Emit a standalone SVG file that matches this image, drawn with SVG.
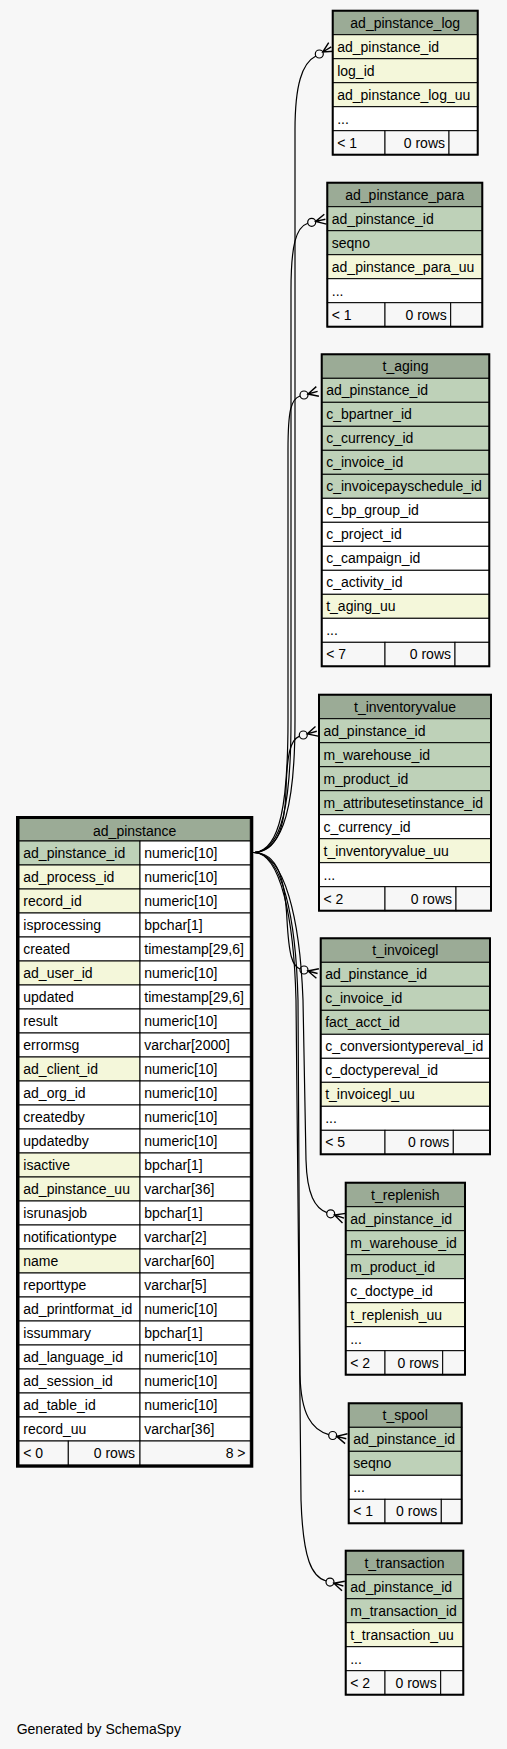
<svg xmlns="http://www.w3.org/2000/svg" width="507" height="1749" viewBox="0 0 507 1749">
<style>
text{font-family:"Liberation Sans",Arial,Helvetica,sans-serif;font-size:14px;fill:#000}
.c{text-anchor:middle}
.r{text-anchor:end}
.h{fill:#9bab96;stroke:#000;stroke-width:1}
.pk{fill:#bed1b8;stroke:#000;stroke-width:1}
.ix{fill:#f4f7da;stroke:#000;stroke-width:1}
.w{fill:#ffffff;stroke:#000;stroke-width:1}
.ft{fill:#f7f7f7;stroke:#000;stroke-width:1}
.ob{fill:none;stroke:#000;stroke-width:2}
.tb{fill:none;stroke:#000;stroke-width:3}
.e{fill:none;stroke:#000;stroke-width:1.2}
.od{fill:none;stroke:#000;stroke-width:1.2}
.cr{fill:none;stroke:#000;stroke-width:1.4}
</style>
<rect x="0" y="0" width="507" height="1749" fill="#f7f7f7"/>

<g id="connectors">
<path class="e" d="M253.3,852.5 C285,852 295,800 295,720 L295,130 C295,85 302,63 315.9,56"/>
<circle class="od" cx="319.3" cy="54" r="4"/>
<path class="cr" d="M333.9,51.2 L322.7,52 L328.7,42.6 M322.7,52 L331.3,46.9"/>

<path class="e" d="M253.3,852.5 C283,852 291,800 291,720 L291,290 C291,245 296,227 307.8,223.2"/>
<circle class="od" cx="311.7" cy="222.3" r="4"/>
<path class="cr" d="M326.5,224.1 L315.6,221.4 L324.3,214.3 M315.6,221.4 L325.4,219.2"/>

<path class="e" d="M253.3,852.5 C281,852 288,800 288,720 L288,450 C288,410 291,399 300.1,396"/>
<circle class="od" cx="304" cy="395" r="4"/>
<path class="cr" d="M318.9,396.2 L307.9,394 L316.3,386.6 M307.9,394 L317.6,391.4"/>

<path class="e" d="M253.3,852.5 C278,852 285,825 286,790 C287,755 290,740 299.5,736.1"/>
<circle class="od" cx="303.3" cy="735" r="4"/>
<path class="cr" d="M318.1,736.1 L307.2,733.9 L315.5,726.5 M307.2,733.9 L316.8,731.3"/>

<path class="e" d="M253.3,852.5 C278,852 285,880 287,920 C289,955 292,966 300.1,969"/>
<circle class="od" cx="304" cy="970" r="4"/>
<path class="cr" d="M316.4,978.3 L307.9,971 L318.9,968.7 M307.9,971 L317.6,973.5"/>

<path class="e" d="M253.3,852.5 C285,852 300,920 303,1000 L306,1160 C307,1195 315,1208 326.9,1212.6"/>
<circle class="od" cx="330.7" cy="1213.8" r="4"/>
<path class="cr" d="M342.5,1222.9 L334.5,1215 L345.6,1213.4 M334.5,1215 L344,1218.1"/>

<path class="e" d="M253.3,852.5 C283,852 296,920 298,1000 L300,1375 C301,1415 312,1430 328.8,1434.6"/>
<circle class="od" cx="332.7" cy="1435.5" r="4"/>
<path class="cr" d="M345.1,1443.6 L336.6,1436.4 L347.5,1433.8 M336.6,1436.4 L346.3,1438.7"/>

<path class="e" d="M253.3,852.5 C281,852 294,920 296,1000 L301,1500 C303,1560 312,1577 326.2,1581"/>
<circle class="od" cx="330" cy="1582.1" r="4"/>
<path class="cr" d="M342,1590.8 L333.8,1583.2 L344.8,1581.2 M333.8,1583.2 L343.4,1586"/>
</g>

<g id="ad_pinstance_log">
<rect class="h" x="332.7" y="10.7" width="145" height="24"/>
<rect class="ix" x="332.7" y="34.7" width="145" height="24"/>
<rect class="ix" x="332.7" y="58.7" width="145" height="24"/>
<rect class="ix" x="332.7" y="82.7" width="145" height="24"/>
<rect class="w" x="332.7" y="106.7" width="145" height="24"/>
<rect class="ft" x="332.7" y="130.7" width="52.3" height="24"/>
<rect class="ft" x="385" y="130.7" width="64" height="24"/>
<rect class="ft" x="449" y="130.7" width="28.7" height="24"/>
<rect class="ob" x="332.7" y="10.7" width="145" height="144"/>
<text class="c" x="405.2" y="27.7">ad_pinstance_log</text>
<text x="337.2" y="51.7">ad_pinstance_id</text>
<text x="337.2" y="75.7">log_id</text>
<text x="337.2" y="99.7">ad_pinstance_log_uu</text>
<text x="337.2" y="123.7">...</text>
<text x="337.2" y="147.7">&lt; 1</text>
<text class="r" x="445" y="147.7">0 rows</text>
</g>

<g id="ad_pinstance_para">
<rect class="h" x="327.3" y="182.7" width="155" height="24"/>
<rect class="pk" x="327.3" y="206.7" width="155" height="24"/>
<rect class="pk" x="327.3" y="230.7" width="155" height="24"/>
<rect class="ix" x="327.3" y="254.7" width="155" height="24"/>
<rect class="w" x="327.3" y="278.7" width="155" height="24"/>
<rect class="ft" x="327.3" y="302.7" width="57.7" height="24"/>
<rect class="ft" x="385" y="302.7" width="65.7" height="24"/>
<rect class="ft" x="450.7" y="302.7" width="31.6" height="24"/>
<rect class="ob" x="327.3" y="182.7" width="155" height="144"/>
<text class="c" x="404.8" y="199.7">ad_pinstance_para</text>
<text x="331.8" y="223.7">ad_pinstance_id</text>
<text x="331.8" y="247.7">seqno</text>
<text x="331.8" y="271.7">ad_pinstance_para_uu</text>
<text x="331.8" y="295.7">...</text>
<text x="331.8" y="319.7">&lt; 1</text>
<text class="r" x="446.7" y="319.7">0 rows</text>
</g>

<g id="t_aging">
<rect class="h" x="321.7" y="354.3" width="167.6" height="24"/>
<rect class="pk" x="321.7" y="378.3" width="167.6" height="24"/>
<rect class="pk" x="321.7" y="402.3" width="167.6" height="24"/>
<rect class="pk" x="321.7" y="426.3" width="167.6" height="24"/>
<rect class="pk" x="321.7" y="450.3" width="167.6" height="24"/>
<rect class="pk" x="321.7" y="474.3" width="167.6" height="24"/>
<rect class="w" x="321.7" y="498.3" width="167.6" height="24"/>
<rect class="w" x="321.7" y="522.3" width="167.6" height="24"/>
<rect class="w" x="321.7" y="546.3" width="167.6" height="24"/>
<rect class="w" x="321.7" y="570.3" width="167.6" height="24"/>
<rect class="ix" x="321.7" y="594.3" width="167.6" height="24"/>
<rect class="w" x="321.7" y="618.3" width="167.6" height="24"/>
<rect class="ft" x="321.7" y="642.3" width="63.3" height="24"/>
<rect class="ft" x="385" y="642.3" width="70" height="24"/>
<rect class="ft" x="455" y="642.3" width="34.3" height="24"/>
<rect class="ob" x="321.7" y="354.3" width="167.6" height="312"/>
<text class="c" x="405.5" y="371.3">t_aging</text>
<text x="326.2" y="395.3">ad_pinstance_id</text>
<text x="326.2" y="419.3">c_bpartner_id</text>
<text x="326.2" y="443.3">c_currency_id</text>
<text x="326.2" y="467.3">c_invoice_id</text>
<text x="326.2" y="491.3">c_invoicepayschedule_id</text>
<text x="326.2" y="515.3">c_bp_group_id</text>
<text x="326.2" y="539.3">c_project_id</text>
<text x="326.2" y="563.3">c_campaign_id</text>
<text x="326.2" y="587.3">c_activity_id</text>
<text x="326.2" y="611.3">t_aging_uu</text>
<text x="326.2" y="635.3">...</text>
<text x="326.2" y="659.3">&lt; 7</text>
<text class="r" x="451" y="659.3">0 rows</text>
</g>

<g id="t_inventoryvalue">
<rect class="h" x="319" y="694.7" width="172" height="24"/>
<rect class="pk" x="319" y="718.7" width="172" height="24"/>
<rect class="pk" x="319" y="742.7" width="172" height="24"/>
<rect class="pk" x="319" y="766.7" width="172" height="24"/>
<rect class="pk" x="319" y="790.7" width="172" height="24"/>
<rect class="w" x="319" y="814.7" width="172" height="24"/>
<rect class="ix" x="319" y="838.7" width="172" height="24"/>
<rect class="w" x="319" y="862.7" width="172" height="24"/>
<rect class="ft" x="319" y="886.7" width="66" height="24"/>
<rect class="ft" x="385" y="886.7" width="71" height="24"/>
<rect class="ft" x="456" y="886.7" width="35" height="24"/>
<rect class="ob" x="319" y="694.7" width="172" height="216"/>
<text class="c" x="405" y="711.7">t_inventoryvalue</text>
<text x="323.5" y="735.7">ad_pinstance_id</text>
<text x="323.5" y="759.7">m_warehouse_id</text>
<text x="323.5" y="783.7">m_product_id</text>
<text x="323.5" y="807.7">m_attributesetinstance_id</text>
<text x="323.5" y="831.7">c_currency_id</text>
<text x="323.5" y="855.7">t_inventoryvalue_uu</text>
<text x="323.5" y="879.7">...</text>
<text x="323.5" y="903.7">&lt; 2</text>
<text class="r" x="452" y="903.7">0 rows</text>
</g>

<g id="t_invoicegl">
<rect class="h" x="320.7" y="938.3" width="169.3" height="24"/>
<rect class="pk" x="320.7" y="962.3" width="169.3" height="24"/>
<rect class="pk" x="320.7" y="986.3" width="169.3" height="24"/>
<rect class="pk" x="320.7" y="1010.3" width="169.3" height="24"/>
<rect class="w" x="320.7" y="1034.3" width="169.3" height="24"/>
<rect class="w" x="320.7" y="1058.3" width="169.3" height="24"/>
<rect class="ix" x="320.7" y="1082.3" width="169.3" height="24"/>
<rect class="w" x="320.7" y="1106.3" width="169.3" height="24"/>
<rect class="ft" x="320.7" y="1130.3" width="64.3" height="24"/>
<rect class="ft" x="385" y="1130.3" width="68.3" height="24"/>
<rect class="ft" x="453.3" y="1130.3" width="36.7" height="24"/>
<rect class="ob" x="320.7" y="938.3" width="169.3" height="216"/>
<text class="c" x="405.35" y="955.3">t_invoicegl</text>
<text x="325.2" y="979.3">ad_pinstance_id</text>
<text x="325.2" y="1003.3">c_invoice_id</text>
<text x="325.2" y="1027.3">fact_acct_id</text>
<text x="325.2" y="1051.3">c_conversiontypereval_id</text>
<text x="325.2" y="1075.3">c_doctypereval_id</text>
<text x="325.2" y="1099.3">t_invoicegl_uu</text>
<text x="325.2" y="1123.3">...</text>
<text x="325.2" y="1147.3">&lt; 5</text>
<text class="r" x="449.3" y="1147.3">0 rows</text>
</g>

<g id="t_replenish">
<rect class="h" x="345.7" y="1182.7" width="119.3" height="24"/>
<rect class="pk" x="345.7" y="1206.7" width="119.3" height="24"/>
<rect class="pk" x="345.7" y="1230.7" width="119.3" height="24"/>
<rect class="pk" x="345.7" y="1254.7" width="119.3" height="24"/>
<rect class="w" x="345.7" y="1278.7" width="119.3" height="24"/>
<rect class="ix" x="345.7" y="1302.7" width="119.3" height="24"/>
<rect class="w" x="345.7" y="1326.7" width="119.3" height="24"/>
<rect class="ft" x="345.7" y="1350.7" width="39.3" height="24"/>
<rect class="ft" x="385" y="1350.7" width="57.7" height="24"/>
<rect class="ft" x="442.7" y="1350.7" width="22.3" height="24"/>
<rect class="ob" x="345.7" y="1182.7" width="119.3" height="192"/>
<text class="c" x="405.35" y="1199.7">t_replenish</text>
<text x="350.2" y="1223.7">ad_pinstance_id</text>
<text x="350.2" y="1247.7">m_warehouse_id</text>
<text x="350.2" y="1271.7">m_product_id</text>
<text x="350.2" y="1295.7">c_doctype_id</text>
<text x="350.2" y="1319.7">t_replenish_uu</text>
<text x="350.2" y="1343.7">...</text>
<text x="350.2" y="1367.7">&lt; 2</text>
<text class="r" x="438.7" y="1367.7">0 rows</text>
</g>

<g id="t_spool">
<rect class="h" x="348.7" y="1403.3" width="113" height="24"/>
<rect class="pk" x="348.7" y="1427.3" width="113" height="24"/>
<rect class="pk" x="348.7" y="1451.3" width="113" height="24"/>
<rect class="w" x="348.7" y="1475.3" width="113" height="24"/>
<rect class="ft" x="348.7" y="1499.3" width="36.3" height="24"/>
<rect class="ft" x="385" y="1499.3" width="56.3" height="24"/>
<rect class="ft" x="441.3" y="1499.3" width="20.4" height="24"/>
<rect class="ob" x="348.7" y="1403.3" width="113" height="120"/>
<text class="c" x="405.2" y="1420.3">t_spool</text>
<text x="353.2" y="1444.3">ad_pinstance_id</text>
<text x="353.2" y="1468.3">seqno</text>
<text x="353.2" y="1492.3">...</text>
<text x="353.2" y="1516.3">&lt; 1</text>
<text class="r" x="437.3" y="1516.3">0 rows</text>
</g>

<g id="t_transaction">
<rect class="h" x="345.7" y="1550.7" width="117.6" height="24"/>
<rect class="pk" x="345.7" y="1574.7" width="117.6" height="24"/>
<rect class="pk" x="345.7" y="1598.7" width="117.6" height="24"/>
<rect class="ix" x="345.7" y="1622.7" width="117.6" height="24"/>
<rect class="w" x="345.7" y="1646.7" width="117.6" height="24"/>
<rect class="ft" x="345.7" y="1670.7" width="39.3" height="24"/>
<rect class="ft" x="385" y="1670.7" width="55.7" height="24"/>
<rect class="ft" x="440.7" y="1670.7" width="22.6" height="24"/>
<rect class="ob" x="345.7" y="1550.7" width="117.6" height="144"/>
<text class="c" x="404.5" y="1567.7">t_transaction</text>
<text x="350.2" y="1591.7">ad_pinstance_id</text>
<text x="350.2" y="1615.7">m_transaction_id</text>
<text x="350.2" y="1639.7">t_transaction_uu</text>
<text x="350.2" y="1663.7">...</text>
<text x="350.2" y="1687.7">&lt; 2</text>
<text class="r" x="436.7" y="1687.7">0 rows</text>
</g>

<g id="ad_pinstance">
<rect class="h" x="19" y="818.5" width="231.3" height="22.5"/>
<text class="c" x="134.7" y="835.5">ad_pinstance</text>
<rect class="pk" x="19" y="841" width="121" height="24"/><rect class="w" x="140" y="841" width="110.3" height="24"/>
<rect class="ix" x="19" y="865" width="121" height="24"/><rect class="w" x="140" y="865" width="110.3" height="24"/>
<rect class="ix" x="19" y="889" width="121" height="24"/><rect class="w" x="140" y="889" width="110.3" height="24"/>
<rect class="w" x="19" y="913" width="121" height="24"/><rect class="w" x="140" y="913" width="110.3" height="24"/>
<rect class="w" x="19" y="937" width="121" height="24"/><rect class="w" x="140" y="937" width="110.3" height="24"/>
<rect class="ix" x="19" y="961" width="121" height="24"/><rect class="w" x="140" y="961" width="110.3" height="24"/>
<rect class="w" x="19" y="985" width="121" height="24"/><rect class="w" x="140" y="985" width="110.3" height="24"/>
<rect class="w" x="19" y="1009" width="121" height="24"/><rect class="w" x="140" y="1009" width="110.3" height="24"/>
<rect class="w" x="19" y="1033" width="121" height="24"/><rect class="w" x="140" y="1033" width="110.3" height="24"/>
<rect class="ix" x="19" y="1057" width="121" height="24"/><rect class="w" x="140" y="1057" width="110.3" height="24"/>
<rect class="w" x="19" y="1081" width="121" height="24"/><rect class="w" x="140" y="1081" width="110.3" height="24"/>
<rect class="w" x="19" y="1105" width="121" height="24"/><rect class="w" x="140" y="1105" width="110.3" height="24"/>
<rect class="w" x="19" y="1129" width="121" height="24"/><rect class="w" x="140" y="1129" width="110.3" height="24"/>
<rect class="ix" x="19" y="1153" width="121" height="24"/><rect class="w" x="140" y="1153" width="110.3" height="24"/>
<rect class="ix" x="19" y="1177" width="121" height="24"/><rect class="w" x="140" y="1177" width="110.3" height="24"/>
<rect class="w" x="19" y="1201" width="121" height="24"/><rect class="w" x="140" y="1201" width="110.3" height="24"/>
<rect class="w" x="19" y="1225" width="121" height="24"/><rect class="w" x="140" y="1225" width="110.3" height="24"/>
<rect class="ix" x="19" y="1249" width="121" height="24"/><rect class="w" x="140" y="1249" width="110.3" height="24"/>
<rect class="w" x="19" y="1273" width="121" height="24"/><rect class="w" x="140" y="1273" width="110.3" height="24"/>
<rect class="w" x="19" y="1297" width="121" height="24"/><rect class="w" x="140" y="1297" width="110.3" height="24"/>
<rect class="w" x="19" y="1321" width="121" height="24"/><rect class="w" x="140" y="1321" width="110.3" height="24"/>
<rect class="w" x="19" y="1345" width="121" height="24"/><rect class="w" x="140" y="1345" width="110.3" height="24"/>
<rect class="w" x="19" y="1369" width="121" height="24"/><rect class="w" x="140" y="1369" width="110.3" height="24"/>
<rect class="w" x="19" y="1393" width="121" height="24"/><rect class="w" x="140" y="1393" width="110.3" height="24"/>
<rect class="w" x="19" y="1417" width="121" height="24"/><rect class="w" x="140" y="1417" width="110.3" height="24"/>
<rect class="ft" x="19" y="1441" width="49.3" height="24"/><rect class="ft" x="68.3" y="1441" width="71.7" height="24"/><rect class="ft" x="140" y="1441" width="110.3" height="24"/>
<rect class="tb" x="17.5" y="817.5" width="234.3" height="648.7"/>
<text x="23.3" y="858">ad_pinstance_id</text><text x="144.3" y="858">numeric[10]</text>
<text x="23.3" y="882">ad_process_id</text><text x="144.3" y="882">numeric[10]</text>
<text x="23.3" y="906">record_id</text><text x="144.3" y="906">numeric[10]</text>
<text x="23.3" y="930">isprocessing</text><text x="144.3" y="930">bpchar[1]</text>
<text x="23.3" y="954">created</text><text x="144.3" y="954">timestamp[29,6]</text>
<text x="23.3" y="978">ad_user_id</text><text x="144.3" y="978">numeric[10]</text>
<text x="23.3" y="1002">updated</text><text x="144.3" y="1002">timestamp[29,6]</text>
<text x="23.3" y="1026">result</text><text x="144.3" y="1026">numeric[10]</text>
<text x="23.3" y="1050">errormsg</text><text x="144.3" y="1050">varchar[2000]</text>
<text x="23.3" y="1074">ad_client_id</text><text x="144.3" y="1074">numeric[10]</text>
<text x="23.3" y="1098">ad_org_id</text><text x="144.3" y="1098">numeric[10]</text>
<text x="23.3" y="1122">createdby</text><text x="144.3" y="1122">numeric[10]</text>
<text x="23.3" y="1146">updatedby</text><text x="144.3" y="1146">numeric[10]</text>
<text x="23.3" y="1170">isactive</text><text x="144.3" y="1170">bpchar[1]</text>
<text x="23.3" y="1194">ad_pinstance_uu</text><text x="144.3" y="1194">varchar[36]</text>
<text x="23.3" y="1218">isrunasjob</text><text x="144.3" y="1218">bpchar[1]</text>
<text x="23.3" y="1242">notificationtype</text><text x="144.3" y="1242">varchar[2]</text>
<text x="23.3" y="1266">name</text><text x="144.3" y="1266">varchar[60]</text>
<text x="23.3" y="1290">reporttype</text><text x="144.3" y="1290">varchar[5]</text>
<text x="23.3" y="1314">ad_printformat_id</text><text x="144.3" y="1314">numeric[10]</text>
<text x="23.3" y="1338">issummary</text><text x="144.3" y="1338">bpchar[1]</text>
<text x="23.3" y="1362">ad_language_id</text><text x="144.3" y="1362">numeric[10]</text>
<text x="23.3" y="1386">ad_session_id</text><text x="144.3" y="1386">numeric[10]</text>
<text x="23.3" y="1410">ad_table_id</text><text x="144.3" y="1410">numeric[10]</text>
<text x="23.3" y="1434">record_uu</text><text x="144.3" y="1434">varchar[36]</text>
<text x="23.3" y="1458">&lt; 0</text><text class="r" x="135" y="1458">0 rows</text><text class="r" x="245.5" y="1458">8 &gt;</text>
</g>

<text x="16.7" y="1734">Generated by SchemaSpy</text>
</svg>
